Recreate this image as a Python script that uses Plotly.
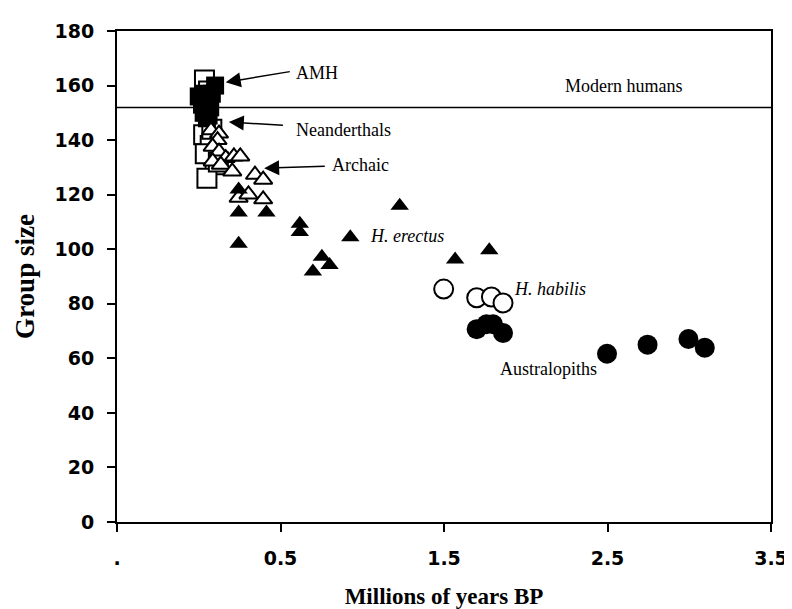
import plotly.graph_objects as go

# ---- data ----
amh_x = [0.10, 0.00, 0.03, 0.06, 0.02, 0.07, 0.03, 0.06, 0.08, 0.05]
amh_y = [160, 156, 157, 155, 153, 152, 150, 149, 157, 148]

nean_x = [0.035, 0.06, 0.03, 0.07, 0.10, 0.05, 0.04, 0.12, 0.08]
nean_y = [162, 158, 142, 138, 131, 126, 135, 132, 144]

arch_x = [0.075, 0.124, 0.115, 0.085, 0.124, 0.165, 0.215, 0.254, 0.085, 0.135,
          0.205, 0.344, 0.394, 0.244, 0.304, 0.394]
arch_y = [143.6, 142.4, 140.0, 137.6, 135.8, 133.4, 134.0, 134.0, 132.2, 131.0,
          128.5, 127.3, 125.5, 118.9, 120.1, 118.3]

erec_x = [0.244, 0.244, 0.414, 0.244, 0.618, 0.618, 0.927, 0.753, 0.80, 0.698,
          1.229, 1.568, 1.777]
erec_y = [121.9, 113.5, 113.5, 102.0, 109.3, 106.3, 104.4, 97.2, 94.2, 91.8,
          115.9, 96.2, 99.6]

habi_x = [1.498, 1.70, 1.79, 1.861]
habi_y = [85.4, 82.2, 82.5, 80.3]

aust_x = [1.70, 1.76, 1.80, 1.861, 2.497, 2.745, 2.995, 3.095]
aust_y = [70.7, 72.5, 72.5, 69.3, 61.7, 65.0, 67.1, 63.9]

modern_human_group = 152

x_tickvals = [-0.5, 0.5, 1.5, 2.5, 3.5]
x_ticktext = [".", "0.5", "1.5", "2.5", "3.5"]
y_tickvals = [0, 20, 40, 60, 80, 100, 120, 140, 160, 180]

fig = go.Figure()

def add(xs, ys, symbol, size, filled):
    fig.add_trace(go.Scatter(
        x=xs, y=ys, mode="markers",
        marker=dict(symbol=symbol, size=size,
                    color="black" if filled else "white",
                    line=dict(color="black", width=0 if filled else 2)),
        showlegend=False, hoverinfo="x+y"))

add(nean_x, nean_y, "square", 19, False)
add(amh_x, amh_y, "square", 18, True)
add(arch_x, arch_y, "triangle-up", 16, False)
add(erec_x, erec_y, "triangle-up", 16, True)
add(habi_x, habi_y, "circle", 19, False)
add(aust_x, aust_y, "circle", 20, True)

# Modern humans line
fig.add_trace(go.Scatter(x=[-0.5, 3.5], y=[modern_human_group, modern_human_group],
                         mode="lines", line=dict(color="black", width=1.5),
                         showlegend=False, hoverinfo="skip"))

tfont = dict(family="Liberation Serif, Times New Roman, serif", size=18, color="black")

# arrows (tip, tail) in data coords
arrows = [
    (0.165, 161.2, 0.566, 165.2),
    (0.184, 146.6, 0.524, 145.4),
    (0.40, 129.7, 0.78, 130.4),
]
for x, y, ax, ay in arrows:
    fig.add_annotation(x=x, y=y, ax=ax, ay=ay, xref="x", yref="y",
                       axref="x", ayref="y", text="", showarrow=True,
                       arrowhead=2, arrowsize=2, arrowwidth=1.5,
                       arrowcolor="black")

labels = [
    (0.59, 164.5, "AMH", "left"),
    (0.59, 143.6, "Neanderthals", "left"),
    (0.81, 130.7, "Archaic", "left"),
    (1.04, 105.0, "<i>H. erectus</i>", "left"),
    (1.925, 85.3, "<i>H. habilis</i>", "left"),
    (2.14, 56.0, "Australopiths", "center"),
    (2.6, 160.0, "Modern humans", "center"),
]
for x, y, t, xa in labels:
    fig.add_annotation(x=x, y=y, text=t, showarrow=False, xanchor=xa,
                       yanchor="middle", font=tfont, borderpad=0)

tickfont = dict(family="DejaVu Sans, Verdana, sans-serif", size=19,
                color="black", weight="bold")

fig.update_layout(
    width=792, height=609,
    margin=dict(l=109, r=15, t=21, b=90),
    paper_bgcolor="white", plot_bgcolor="white",
    xaxis=dict(range=[-0.5, 3.5], tickvals=x_tickvals, ticktext=x_ticktext,
               showgrid=False, zeroline=False, showline=True, mirror=True,
               linecolor="black", linewidth=2, ticks="outside", ticklen=8,
               tickcolor="black", tickwidth=1.5,
               tickfont=tickfont, ticklabelstandoff=10,
               ticklabeloverflow="allow",
               title=dict(text="<b>Millions of years BP</b>", standoff=20,
                          font=dict(family="Liberation Serif, Times New Roman, serif",
                                    size=23, color="black"))),
    yaxis=dict(range=[0, 180], tickvals=y_tickvals,
               showgrid=False, zeroline=False, showline=True, mirror=True,
               linecolor="black", linewidth=2, ticks="outside", ticklen=8,
               tickcolor="black", tickwidth=1.5,
               tickfont=tickfont, ticklabelstandoff=9,
               ticklabeloverflow="allow",
               title=dict(text="<b>Group size</b>", standoff=12,
                          font=dict(family="Liberation Serif, Times New Roman, serif",
                                    size=27, color="black"))),
)

fig.write_html("out.html")
